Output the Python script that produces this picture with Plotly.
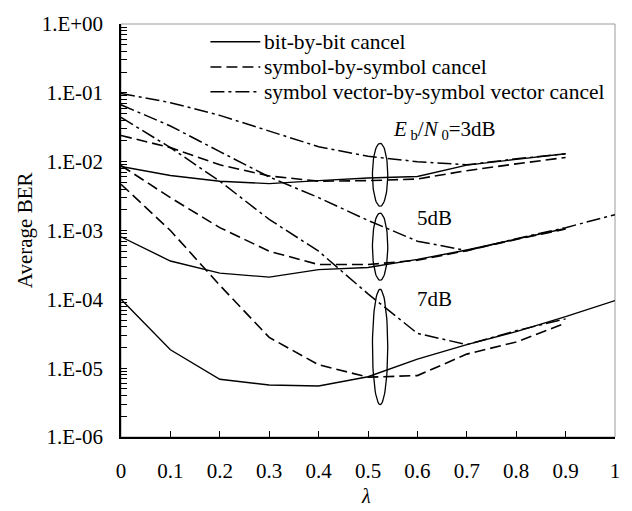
import math
import plotly.graph_objects as go

# ---- data -------------------------------------------------------------
LAMBDA = [0, 0.1, 0.2, 0.3, 0.4, 0.5, 0.6, 0.7, 0.8, 0.9]
LAMBDA_EXT = [0, 0.1, 0.2, 0.3, 0.4, 0.5, 0.6, 0.7, 0.8, 0.9, 1.0]

# Eb/N0 = 3 dB
BIT_3DB = [8.5e-3, 6.3e-3, 5.2e-3, 4.8e-3, 5.3e-3, 5.8e-3, 6.1e-3, 8.9e-3, 1.08e-2, 1.3e-2]
SYM_3DB = [2.4e-2, 1.6e-2, 9.0e-3, 6.2e-3, 5.2e-3, 5.3e-3, 5.6e-3, 7.4e-3, 9.3e-3, 1.15e-2]
VEC_3DB = [9.8e-2, 7.2e-2, 4.7e-2, 2.8e-2, 1.65e-2, 1.2e-2, 1.0e-2, 9.0e-3, 1.1e-2, 1.3e-2]

# Eb/N0 = 5 dB
BIT_5DB = [8.1e-4, 3.6e-4, 2.4e-4, 2.1e-4, 2.7e-4, 2.9e-4, 3.8e-4, 5.2e-4, 7.5e-4, 1.07e-3]
SYM_5DB = [8.8e-3, 3.0e-3, 1.1e-3, 5.0e-4, 3.2e-4, 3.2e-4, 3.7e-4, 5.1e-4, 7.4e-4, 1.05e-3]
VEC_5DB = [6.7e-2, 3.3e-2, 1.4e-2, 6.0e-3, 3.0e-3, 1.4e-3, 7.0e-4, 5.1e-4, 7.6e-4, 1.1e-3, 1.7e-3]

# Eb/N0 = 7 dB
BIT_7DB = [1.0e-4, 1.85e-5, 6.9e-6, 5.7e-6, 5.5e-6, 7.5e-6, 1.35e-5, 2.2e-5, 3.4e-5, 5.6e-5, 9.6e-5]
SYM_7DB = [4.7e-3, 1.0e-3, 1.6e-4, 2.8e-5, 1.12e-5, 7.4e-6, 7.8e-6, 1.6e-5, 2.4e-5, 4.5e-5]
VEC_7DB = [4.4e-2, 1.6e-2, 5.2e-3, 1.45e-3, 5.0e-4, 1.2e-4, 3.2e-5, 2.2e-5, 3.5e-5, 5.2e-5]

SERIES_NAMES = ["bit-by-bit cancel",
                "symbol-by-symbol cancel",
                "symbol vector-by-symbol vector cancel"]

X_TICKS = [0, 0.1, 0.2, 0.3, 0.4, 0.5, 0.6, 0.7, 0.8, 0.9, 1]
X_TICK_TEXT = ["0", "0.1", "0.2", "0.3", "0.4", "0.5", "0.6", "0.7", "0.8", "0.9", "1"]
Y_TICKS = [1, 1e-1, 1e-2, 1e-3, 1e-4, 1e-5, 1e-6]
Y_TICK_TEXT = ["1.E+00", "1.E-01", "1.E-02", "1.E-03", "1.E-04", "1.E-05", "1.E-06"]

# SNR group markers: ellipse centre (lambda) and BER span of each ellipse
GROUP_LAMBDA = 0.5245
GROUP_HALF_WIDTH = 0.0155
GROUP_SPANS = [(1.85e-2, 2.25e-3), (1.79e-3, 1.89e-4), (1.40e-4, 2.96e-6)]

# ---- styling ----------------------------------------------------------
FONT = "Liberation Serif, Times New Roman, serif"
FS = 21
STYLES = [
    dict(color="black", width=1.4, dash="solid"),
    dict(color="black", width=1.6, dash="11px,5px"),
    dict(color="black", width=1.5, dash="14px,4px,3px,4px"),
]

fig = go.Figure()

groups = [
    (LAMBDA, BIT_3DB, LAMBDA, SYM_3DB, LAMBDA, VEC_3DB),
    (LAMBDA, BIT_5DB, LAMBDA, SYM_5DB, LAMBDA_EXT, VEC_5DB),
    (LAMBDA_EXT, BIT_7DB, LAMBDA, SYM_7DB, LAMBDA, VEC_7DB),
]
for g in groups:
    for k in range(3):
        fig.add_trace(go.Scatter(
            x=g[2 * k], y=g[2 * k + 1], mode="lines",
            name=SERIES_NAMES[k], line=STYLES[k],
            showlegend=False, hoverinfo="skip"))

# ellipses grouping the curves by Eb/N0 (ellipse in lambda / log-BER space)
N_PTS = 73
for top, bot in GROUP_SPANS:
    lt, lb = math.log10(top), math.log10(bot)
    mid, half = (lt + lb) / 2, (lt - lb) / 2
    ex, ey = [], []
    for i in range(N_PTS):
        t = 2 * math.pi * i / (N_PTS - 1)
        ex.append(GROUP_LAMBDA + GROUP_HALF_WIDTH * math.cos(t))
        ey.append(10 ** (mid + half * math.sin(t)))
    fig.add_trace(go.Scatter(x=ex, y=ey, mode="lines",
                             line=dict(color="black", width=1.3),
                             showlegend=False, hoverinfo="skip"))

shapes = []
# light frame on top/right of the plotting area
shapes.append(dict(type="rect", xref="paper", yref="paper", x0=0, x1=1, y0=0, y1=1,
                   line=dict(color="#9a9a9a", width=1), layer="below"))

# legend drawn as sample lines + labels in the upper part of the plot
LEG_X0, LEG_X1, LEG_TX = 0.181, 0.282, 0.285
LEG_ROWS = [0.957, 0.896, 0.836]
annotations = []
for k, yrow in enumerate(LEG_ROWS):
    shapes.append(dict(type="line", xref="paper", yref="paper",
                       x0=LEG_X0, x1=LEG_X1, y0=yrow, y1=yrow,
                       line=dict(color="black", width=STYLES[k]["width"],
                                 dash=STYLES[k]["dash"])))
    annotations.append(dict(xref="paper", yref="paper", x=LEG_TX, y=yrow,
                            text=SERIES_NAMES[k], showarrow=False,
                            xanchor="left", yanchor="middle",
                            font=dict(family=FONT, size=FS + 0.5, color="black")))

# Eb/N0 labels
annotations += [
    dict(x=0.546, y=-1.543, xref="x", yref="y", xanchor="left", yanchor="middle",
         text="<i>E</i><sub> b</sub>/<i>N</i><sub> 0</sub>=3dB", showarrow=False,
         font=dict(family=FONT, size=FS, color="black")),
    dict(x=0.634, y=-2.814, xref="x", yref="y", xanchor="center", yanchor="middle",
         text="5dB", showarrow=False, font=dict(family=FONT, size=FS, color="black")),
    dict(x=0.634, y=-3.996, xref="x", yref="y", xanchor="center", yanchor="middle",
         text="7dB", showarrow=False, font=dict(family=FONT, size=FS, color="black")),
]
# axis titles
annotations += [
    dict(xref="paper", yref="paper", x=-0.195, y=0.5, text="Average BER",
         textangle=-90, showarrow=False, xanchor="center", yanchor="middle",
         font=dict(family=FONT, size=FS, color="black")),
    dict(xref="paper", yref="paper", x=0.495, y=-0.143, text="<i>λ</i>",
         showarrow=False, xanchor="center", yanchor="middle",
         font=dict(family=FONT, size=FS - 1, color="black")),
]

minor_vals = []
for e in range(-6, 0):
    for m in range(2, 10):
        minor_vals.append(m * 10 ** e)

fig.update_layout(
    width=632, height=511,
    margin=dict(l=121, r=14, t=17, b=74),
    paper_bgcolor="white", plot_bgcolor="white",
    shapes=shapes, annotations=annotations,
    showlegend=False,
    xaxis=dict(range=[0, 1], tickvals=X_TICKS, ticktext=X_TICK_TEXT,
               ticks="inside", ticklen=6, tickcolor="black", tickwidth=1,
               showline=True, linecolor="black", linewidth=1.5,
               showgrid=False, zeroline=False, ticklabelstandoff=14,
               tickfont=dict(family=FONT, size=FS, color="black")),
    yaxis=dict(type="log", range=[-6, 0], tickvals=Y_TICKS, ticktext=Y_TICK_TEXT,
               ticks="inside", ticklen=6, tickcolor="black", tickwidth=1,
               minor=dict(ticks="inside", ticklen=6, tickcolor="black",
                          tickwidth=1, tickvals=minor_vals, showgrid=False),
               showline=True, linecolor="black", linewidth=1.5,
               showgrid=False, zeroline=False, ticklabelstandoff=12,
               tickfont=dict(family=FONT, size=FS, color="black")),
)

fig.write_html("out.html")
